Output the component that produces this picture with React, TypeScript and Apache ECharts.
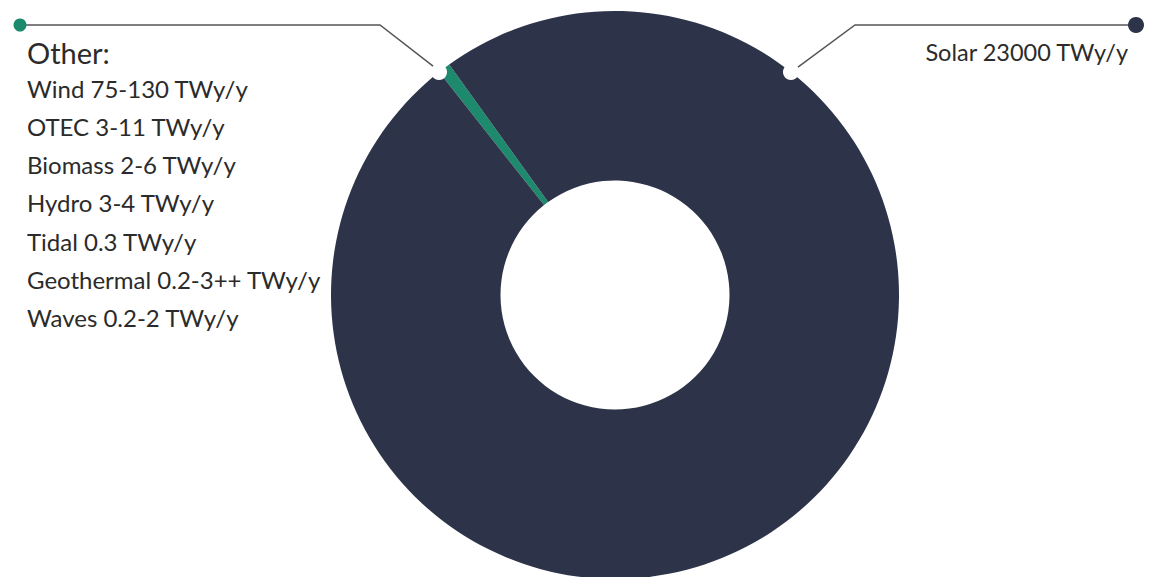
import React, { useEffect, useRef } from "react";
import * as echarts from "echarts";

const categories = ["Other", "Solar"];
const values = [165, 23000];
const colors = ["#1d8a6d", "#2d3449"];
const otherTitle = "Other:";
const otherItems = [
  "Wind 75-130 TWy/y",
  "OTEC 3-11 TWy/y",
  "Biomass 2-6 TWy/y",
  "Hydro 3-4 TWy/y",
  "Tidal 0.3 TWy/y",
  "Geothermal 0.2-3++ TWy/y",
  "Waves 0.2-2 TWy/y",
];
const solarLabel = "Solar 23000 TWy/y";

export default function App() {
  const ref = useRef<HTMLDivElement>(null);
  useEffect(() => {
    if (!ref.current) return;
    const chart = echarts.init(ref.current, undefined, { renderer: "svg" });
    const cx = 615;
    const cy = 295;
    const rOut = 284;
    const rIn = 114.5;
    const total = values.reduce((a, b) => a + b, 0);
    const otherDeg = (values[0] / total) * 360;
    const otherMid = 127;
    const startAngle = otherMid + otherDeg / 2;
    const pt = (deg: number, r: number) => [
      cx + r * Math.cos((deg * Math.PI) / 180),
      cy - r * Math.sin((deg * Math.PI) / 180),
    ];
    const otherDot = pt(startAngle, rOut);
    const solarDot = pt(180 - startAngle, rOut);
    const textColor = "#2b2b2b";
    const font = "Lato, 'Open Sans', sans-serif";
    const graphics: any[] = [
      {
        type: "polyline",
        shape: { points: [[20, 25], [380, 25], [otherDot[0] - 6, otherDot[1] - 6]] },
        style: { stroke: "#555", lineWidth: 1.5, fill: "none" },
        z: 10,
      },
      { type: "circle", shape: { cx: 20, cy: 25, r: 6.5 }, style: { fill: colors[0] }, z: 11 },
      { type: "circle", shape: { cx: otherDot[0], cy: otherDot[1], r: 8 }, style: { fill: "#fff" }, z: 11 },
      {
        type: "polyline",
        shape: { points: [[1136, 25], [855, 25], [solarDot[0] + 7, solarDot[1] - 5]] },
        style: { stroke: "#555", lineWidth: 1.5, fill: "none" },
        z: 10,
      },
      { type: "circle", shape: { cx: 1136, cy: 25, r: 8 }, style: { fill: colors[1] }, z: 11 },
      { type: "circle", shape: { cx: solarDot[0], cy: solarDot[1], r: 8 }, style: { fill: "#fff" }, z: 11 },
      {
        type: "text",
        x: 27,
        y: 52,
        style: { text: otherTitle, fill: textColor, font: `29px ${font}`, textVerticalAlign: "middle" },
        z: 12,
      },
      {
        type: "text",
        x: 1128,
        y: 52,
        style: { text: solarLabel, fill: textColor, font: `23.5px ${font}`, textAlign: "right", textVerticalAlign: "middle" },
        z: 12,
      },
    ];
    otherItems.forEach((t, i) => {
      graphics.push({
        type: "text",
        x: 27,
        y: 88 + i * 38.3,
        style: { text: t, fill: textColor, font: `24px ${font}`, textVerticalAlign: "middle" },
        z: 12,
      });
    });
    chart.setOption({
      animation: false,
      backgroundColor: "#ffffff",
      series: [
        {
          type: "pie",
          center: [cx, cy],
          radius: [rIn, rOut],
          startAngle,
          clockwise: true,
          label: { show: false },
          labelLine: { show: false },
          silent: true,
          data: categories.map((c, i) => ({ name: c, value: values[i], itemStyle: { color: colors[i] } })),
        },
      ],
      graphic: graphics,
    });
    return () => chart.dispose();
  }, []);
  return (
    <div
      ref={ref}
      style={{ position: "fixed", left: 0, top: 0, width: 1149, height: 577 }}
    />
  );
}
